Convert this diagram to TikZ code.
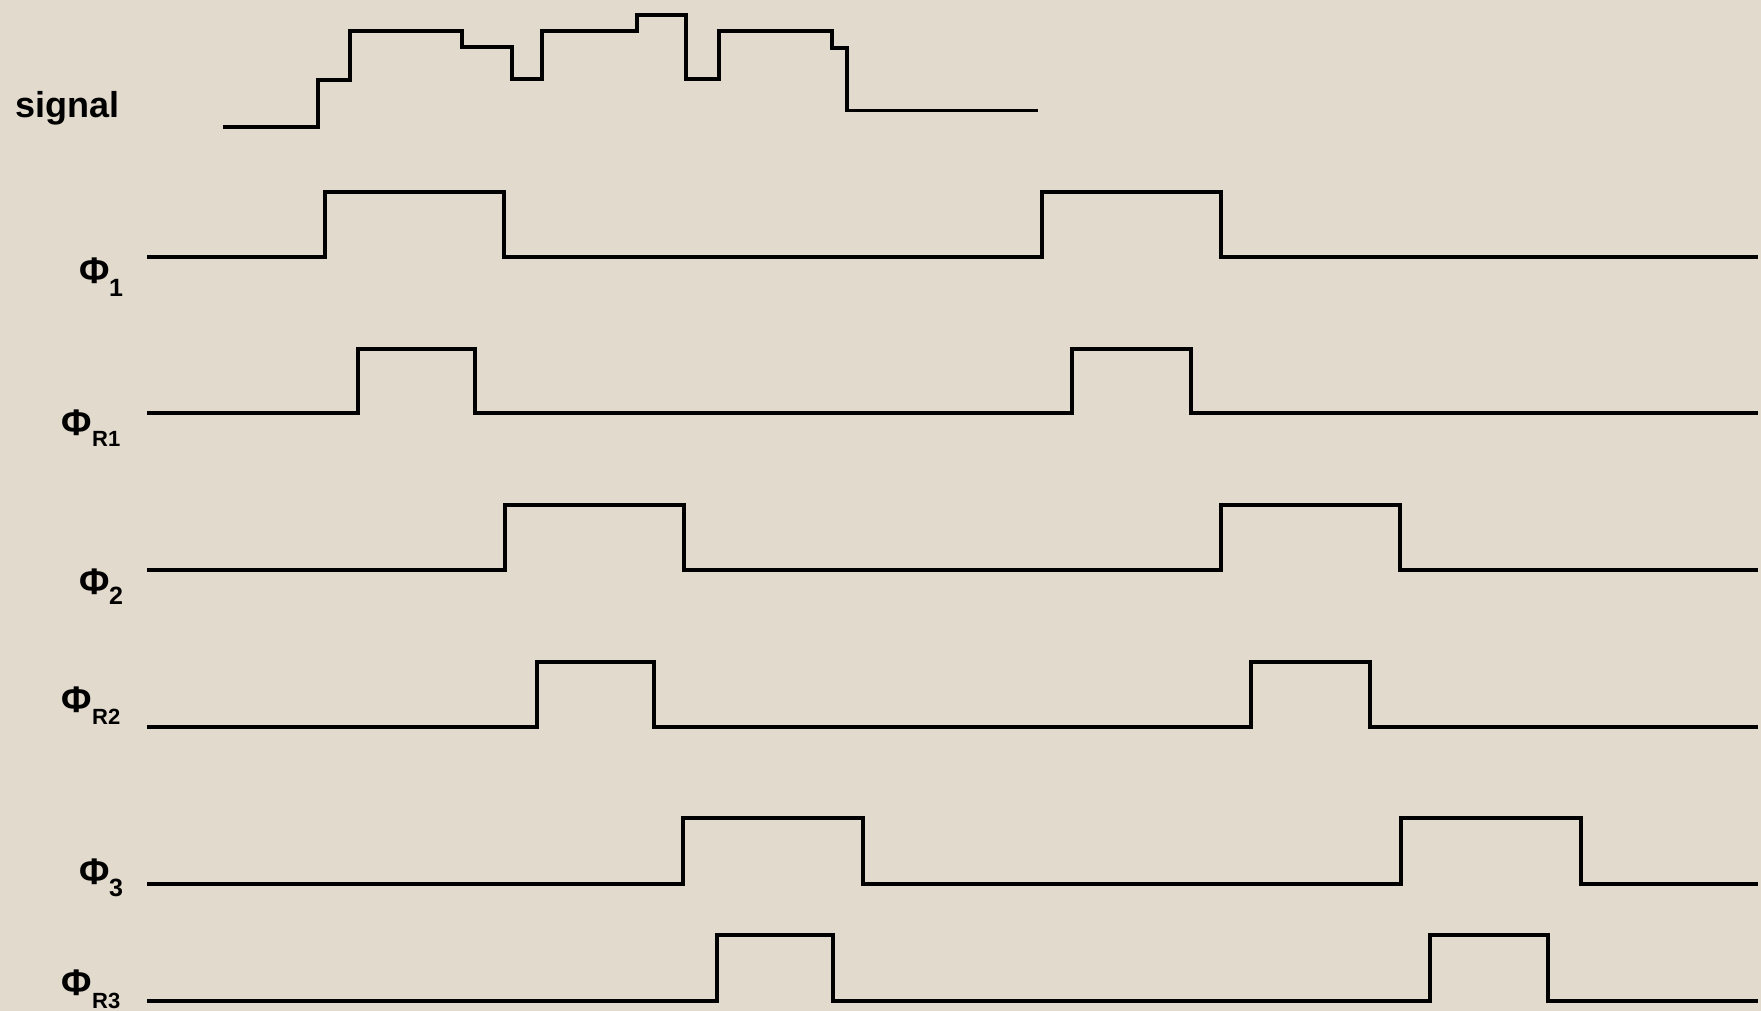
\documentclass[tikz,border=0pt]{standalone}
\usepackage{fontspec}
\setmainfont{Liberation Sans}
\definecolor{bgbeige}{RGB}{226,218,204}
\begin{document}
\begin{tikzpicture}[x=1pt,y=-1pt,
  wave/.style={line width=3.5pt, black, line join=miter},
  biglabel/.style={anchor=base west, inner sep=0pt, font=\bfseries\fontsize{36}{40}\selectfont},
  philabel/.style={anchor=base west, inner sep=0pt, font=\bfseries\fontsize{37}{40}\selectfont},
  sublabel/.style={anchor=base west, inner sep=0pt, font=\bfseries\fontsize{25}{28}\selectfont},
  rsublabel/.style={anchor=base west, inner sep=0pt, font=\bfseries\fontsize{22}{25}\selectfont}]
\fill[bgbeige] (0,0) rectangle (1761,1011);
\useasboundingbox (0,0) rectangle (1761,1011);

% labels
\node[biglabel] (lsig) at (15.5,118) {signal};
\node[philabel] (lp1) at (79,283) {Φ};
\node[sublabel] (lp1s) at (109,296) {1};
\node[philabel] (lr1) at (61,435) {Φ};
\node[rsublabel] (lr1s) at (92,446) {R1};
\node[philabel] (lp2) at (79,594) {Φ};
\node[sublabel] (lp2s) at (109,604) {2};
\node[philabel] (lr2) at (61,712) {Φ};
\node[rsublabel] (lr2s) at (92,724) {R2};
\node[philabel] (lp3) at (79,884) {Φ};
\node[sublabel] (lp3s) at (109,896) {3};
\node[philabel] (lr3) at (61,995) {Φ};
\node[rsublabel] (lr3s) at (92,1008.5) {R3};

% signal
\draw[wave] (223,127) -- (318,127) -- (318,80) -- (350,80) -- (350,31) -- (462,31)
  -- (462,47) -- (512,47) -- (512,79) -- (542,79) -- (542,31) -- (637,31)
  -- (637,15) -- (686,15) -- (686,79) -- (719,79) -- (719,31) -- (832,31)
  -- (832,48) -- (847,48) -- (847,110.5) -- (1038,110.5);

% Phi 1
\draw[wave] (147,257) -- (325,257) -- (325,192) -- (504,192) -- (504,257)
  -- (1042,257) -- (1042,192) -- (1221,192) -- (1221,257) -- (1758,257);
% Phi R1
\draw[wave] (147,413) -- (358,413) -- (358,349) -- (475,349) -- (475,413)
  -- (1072,413) -- (1072,349) -- (1191,349) -- (1191,413) -- (1758,413);
% Phi 2
\draw[wave] (147,570) -- (505,570) -- (505,505) -- (684,505) -- (684,570)
  -- (1221,570) -- (1221,505) -- (1400,505) -- (1400,570) -- (1758,570);
% Phi R2
\draw[wave] (147,727) -- (537,727) -- (537,662) -- (654,662) -- (654,727)
  -- (1251,727) -- (1251,662) -- (1370,662) -- (1370,727) -- (1758,727);
% Phi 3
\draw[wave] (147,884) -- (683,884) -- (683,818) -- (863,818) -- (863,884)
  -- (1401,884) -- (1401,818) -- (1581,818) -- (1581,884) -- (1758,884);
% Phi R3
\draw[wave] (147,1001) -- (717,1001) -- (717,935) -- (833,935) -- (833,1001)
  -- (1430,1001) -- (1430,935) -- (1548,935) -- (1548,1001) -- (1758,1001);
\end{tikzpicture}
\end{document}
